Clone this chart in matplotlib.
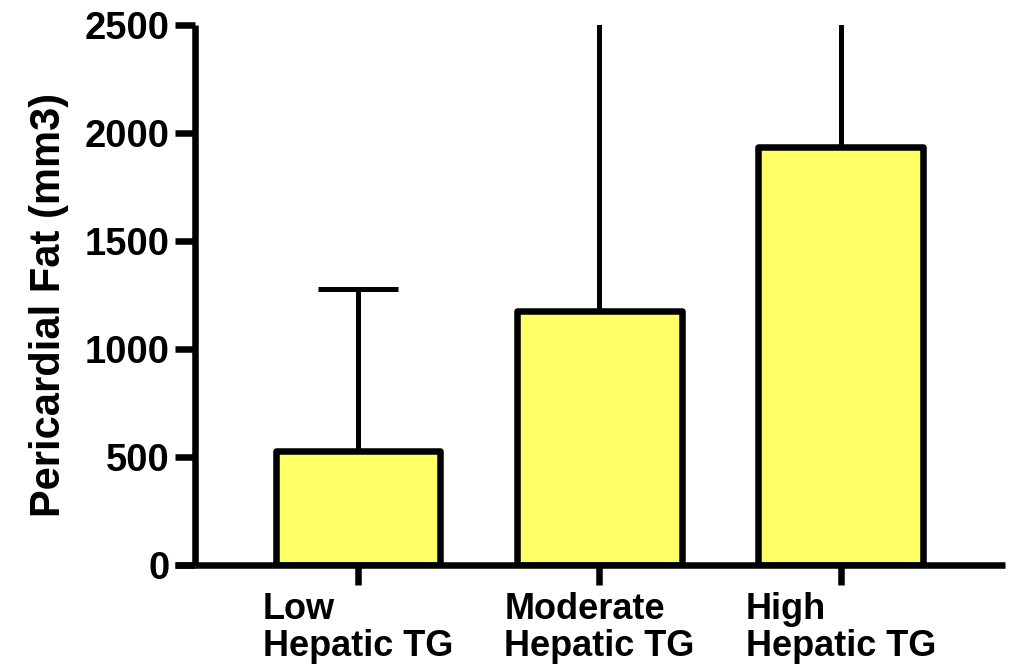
import matplotlib
matplotlib.use("Agg")
import matplotlib.pyplot as plt
import numpy as np

# ── Data ──────────────────────────────────────────────────────────────────────
groups = ["Low\nHepatic TG", "Moderate\nHepatic TG", "High\nHepatic TG"]
means = [528, 1176, 1935]
upper_err = [752, 1500, 800]   # upper SD; the two larger ones run off the top

yticks = [0, 500, 1000, 1500, 2000, 2500]

# ── Style ─────────────────────────────────────────────────────────────────────
FILL = "#FFFF66"
INK = "#000000"
AXW = 4.7
plt.rcParams["font.family"] = ["Liberation Sans", "DejaVu Sans"]
plt.rcParams["font.weight"] = "bold"

fig = plt.figure(figsize=(10.12, 6.71), dpi=100)
ax = fig.add_axes([195 / 1012, 1 - 565 / 671, 810 / 1012, 540 / 671])

x = np.arange(len(groups))
eb = ax.errorbar(x, means, yerr=[np.zeros(len(means)), upper_err], fmt="none",
                 ecolor=INK, elinewidth=3.6, capsize=29, capthick=3.6,
                 zorder=1)
for cap in eb[1]:
    cap.set_solid_capstyle("round")
for col in eb[2]:
    col.set_capstyle("round")
ax.bar(x, means, width=0.683, color=FILL, edgecolor=INK, linewidth=AXW,
       zorder=2, joinstyle="round")

ax.set_xlim(-0.675, 2.68)
ax.set_ylim(0, 2500)
ax.set_yticks(yticks)
ax.set_xticks(x, groups)
for lab in ax.get_xticklabels():
    lab.set_multialignment("left")
    lab.set_linespacing(1.08)
    lab.set_fontsize(26)

for side in ("top", "right"):
    ax.spines[side].set_visible(False)
for side in ("left", "bottom"):
    ax.spines[side].set_linewidth(AXW)
    ax.spines[side].set_capstyle("butt")

# bottom axis line runs out to the end of the y ticks
ax.plot([-20 / 810, 0], [0, 0], transform=ax.transAxes, color=INK,
        lw=AXW, clip_on=False, solid_capstyle="butt", zorder=3)

ax.tick_params(axis="both", length=14.5, width=AXW, color=INK, pad=4)
ax.tick_params(axis="y", labelsize=27.5)
ax.tick_params(axis="x", pad=5)
ax.set_ylabel("Pericardial Fat (mm3)", fontsize=30, fontweight="bold")
ax.yaxis.set_label_coords(-0.155, 0.481)

fig.savefig("out.png", dpi=100, facecolor="white")
